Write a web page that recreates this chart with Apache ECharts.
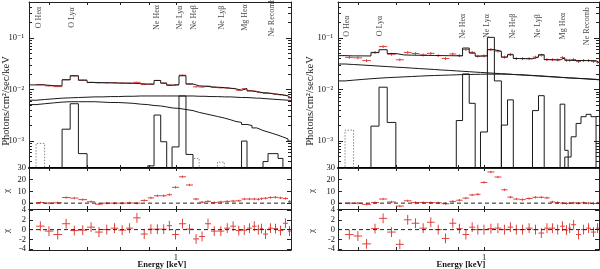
<!DOCTYPE html>
<html><head><meta charset="utf-8">
<script src="https://cdn.jsdelivr.net/npm/echarts@6/dist/echarts.min.js"></script>
<style>html,body{margin:0;padding:0;background:#fff}#c{width:600px;height:269px}</style>
</head><body><div id="c"></div>
<script>
// ---------------- DATA ----------------
// spectral bin edges (keV), shared by both spectra
const binEdges = [0.553,0.569,0.589,0.610,0.632,0.653,0.675,0.699,0.722,0.745,0.769,0.793,0.818,0.842,0.868,0.893,0.916,0.941,0.964,0.985,1.013,1.042,1.072,1.099,1.125,1.153,1.183,1.216,1.246,1.275,1.304,1.333,1.360,1.386,1.405,1.422,1.451,1.480,1.511,1.541,1.573,1.592];
const energyRange = [0.553, 1.592];
const fluxRange = [3e-4, 0.5];
const chi1Range = [-5, 30];
const chi2Range = [-4.15, 4.2];

// tick values / labels
const energyTicks = [0.6, 0.7, 0.8, 0.9, 1];
const energyLabels = [1];
const fluxMajorTicks = [1e-3, 1e-2, 1e-1];
const fluxMajorLabels = ['10⁻³', '10⁻²', '10⁻¹'];
const fluxMinorTicks = [4e-4,5e-4,6e-4,7e-4,8e-4,9e-4,2e-3,3e-3,4e-3,5e-3,6e-3,7e-3,8e-3,9e-3,2e-2,3e-2,4e-2,5e-2,6e-2,7e-2,8e-2,9e-2,2e-1,3e-1,4e-1];
const chi1Ticks = [0, 10, 20, 30];
const chi2Ticks = [-4, -2, 0, 2, 4];

// line identifications
const lineNames = ['O Heα', 'O Lyα', 'Ne Heα', 'Ne Lyα', 'Ne Heβ', 'Ne Lyβ', 'Mg Heα', 'Ne Recomb'];
const leftLabelEnergy  = [0.576, 0.657, 0.926, 1.017, 1.078, 1.204, 1.323, 1.473];
const rightLabelEnergy = [0.574, 0.656, 0.919, 1.010, 1.125, 1.244, 1.377, 1.517];

// ---- left spectrum ----
const leftTotal = [0.0123,0.0123,0.0119,0.0118,0.0154,0.0185,0.0152,0.0137,0.0136,0.0135,0.0134,0.0133,0.0132,0.0130,0.0128,0.0127,0.0150,0.0133,0.0121,0.0125,0.0185,0.0128,0.0118,0.0116,0.0113,0.0111,0.0109,0.0106,0.0103,0.0097,0.0104,0.0094,0.0091,0.0089,0.0087,0.0086,0.0083,0.0081,0.0079,0.0075,0.0069];
const leftContA = [0.0062,0.0064,0.0066,0.0068,0.0069,0.0070,0.0071,0.0072,0.0072,0.0073,0.0073,0.0074,0.0074,0.0075,0.0075,0.0075,0.0075,0.0075,0.0075,0.0075,0.0075,0.0075,0.0074,0.0074,0.0073,0.0073,0.0072,0.0072,0.0071,0.0070,0.0070,0.0069,0.0068,0.0068,0.0067,0.0066,0.0065,0.0064,0.0063,0.0062,0.0061];
const leftContB = [0.0051,0.0053,0.0055,0.0057,0.0058,0.0058,0.0058,0.0058,0.0057,0.0056,0.0056,0.0055,0.0054,0.0052,0.0051,0.0049,0.0048,0.0046,0.0044,0.0043,0.0041,0.0039,0.0036,0.0034,0.0032,0.0030,0.0028,0.0026,0.0024,0.0023,0.0021,0.0020,0.0018,0.0017,0.0016,0.0015,0.0014,0.0013,0.0012,0.0011,0.0010];
const leftData = [null,0.0125,0.0118,0.0114,0.0156,0.0184,0.0152,0.0138,0.0135,0.0135,0.0135,0.0133,0.0133,0.0138,0.0125,0.0127,0.0150,0.0133,0.0123,0.0122,0.0190,0.0128,0.0113,0.0112,0.0116,0.0110,0.0108,0.0107,0.0105,0.0097,0.0104,0.0095,0.0093,0.0089,0.0087,0.0084,0.0084,0.0081,0.0079,0.0077,0.0069];
const leftRelErr = 0.025;
const leftChi1 = [null,0.5,0,0.3,4.8,4.3,3,1.2,-0.8,0,0,0,0.2,0,2.3,4.5,6.3,6.3,7.2,13.5,22.5,15.5,3.5,0.8,1.5,0.5,1,1.5,1.8,2,3.5,3.5,3.5,3.3,3.8,4.2,4.8,5,4.5,4,1.5];
const leftChi2 = [null,0.7,-0.3,-1.0,1.2,-0.2,-0.1,0.5,-0.5,0,0.3,-0.1,0.3,2.4,-0.9,0.1,0.1,0.1,0.8,-1.0,1.2,0.1,-1.9,-1.4,1.2,-0.3,-0.3,0.3,0.7,-0.2,-0.1,0.3,0.7,0,0.2,-0.9,0.3,0.2,-0.2,1.3,-0.3];
// line components: [bin index, flux]
const leftOHea  = [[1, 9.0e-4]];
const leftOLya  = [[4, 1.7e-3], [5, 5.3e-3], [6, 5.7e-4]];
const leftNeHea = [[15, 3.3e-4], [16, 3.2e-3], [17, 9.7e-4]];
const leftNeLya = [[19, 7.7e-4], [20, 7.5e-3], [21, 5.5e-4]];
const leftNeHeb = [[22, 4.6e-4]];
const leftNeLyb = [[26, 3.9e-4]];
const leftMgHea = [[30, 1.0e-3]];
const leftNeRec = [[35, 4.0e-4], [36, 5.7e-4], [37, 5.7e-4], [38, 4.6e-4]];

// ---- right spectrum ----
const rightTotal = [0.0455,0.0450,0.0450,0.0448,0.0520,0.0593,0.0500,0.0470,0.0465,0.0462,0.0460,0.0458,0.0456,0.0454,0.0452,0.0450,0.0639,0.0510,0.0445,0.0450,0.0593,0.0550,0.0426,0.0473,0.0400,0.0398,0.0395,0.0426,0.0473,0.0380,0.0378,0.0376,0.0410,0.0370,0.0368,0.0367,0.0366,0.0365,0.0364,0.0362,0.0335];
const rightContA = [0.0313,0.0306,0.0299,0.0292,0.0285,0.0279,0.0272,0.0267,0.0261,0.0255,0.0250,0.0245,0.0239,0.0235,0.0230,0.0226,0.0222,0.0218,0.0215,0.0211,0.0207,0.0203,0.0200,0.0196,0.0193,0.0190,0.0186,0.0183,0.0180,0.0177,0.0175,0.0172,0.0170,0.0168,0.0167,0.0165,0.0163,0.0161,0.0158,0.0156,0.0154];
const rightContB = [0.0147,0.0152,0.0157,0.0162,0.0166,0.0170,0.0173,0.0176,0.0179,0.0182,0.0185,0.0187,0.0189,0.0191,0.0193,0.0195,0.0196,0.0197,0.0198,0.0199,0.0199,0.0199,0.0198,0.0196,0.0194,0.0191,0.0188,0.0185,0.0182,0.0179,0.0176,0.0173,0.0171,0.0169,0.0168,0.0166,0.0164,0.0162,0.0160,0.0158,0.0156];
const rightData = [null,0.0421,0.0412,0.0364,0.0527,0.0682,0.0484,0.0378,0.0525,0.0501,0.0469,0.0503,0.0456,0.0401,0.0490,0.0456,0.0597,0.0527,0.0445,0.0450,0.0599,0.0558,0.0426,0.0483,0.0400,0.0398,0.0398,0.0426,0.0465,0.0382,0.0380,0.0376,0.0418,0.0370,0.0370,0.0383,0.0350,0.0365,0.0365,0.0352,0.0340];
const rightRelErr = 0.065;
const rightChi1 = [null,0,0,-1,0.5,3.5,1,-2.5,2,0.5,0.5,0.5,0.3,-0.5,1.5,2.5,4.3,7,7.5,17.7,26.6,22.3,11.4,5.1,3.5,3,4,5,5,4.5,1,0.5,0,-0.3,0,0.2,0,0.3,0,-0.3,0.2];
const rightChi2 = [null,-1,-1.3,-2.9,0.2,2.3,-0.5,-3,2,1.3,0.3,1.5,0,-1.8,1.3,0.2,-1,0.5,0,0,0.2,0.3,0,0.5,0,0,0.3,0,-0.7,0.3,0.3,0,0.7,-0.1,0.3,1,-1,0,0.3,-0.5,0.3];
const rightOHea  = [[1, 1.63e-3]];
const rightOLya  = [[4, 1.95e-3], [5, 1.11e-2], [6, 2.3e-3]];
const rightNeHea = [[15, 2.5e-3], [16, 2.01e-2], [17, 5.4e-3]];
const rightNeLya = [[19, 1.5e-3], [20, 0.103], [21, 1.47e-2]];
const rightNeHeb = [[22, 2.04e-3], [23, 6.3e-3]];
const rightNeLyb = [[27, 3.9e-3], [28, 7.6e-3]];
const rightMgHea = [[32, 5.2e-3], [33, 6.6e-4]];
const rightNeRec = [[33, 4.9e-4], [34, 4.9e-4], [35, 1.21e-3], [36, 2.2e-3], [37, 2.97e-3], [38, 3.3e-3], [39, 2.97e-3]];

// ---------------- STYLE / LAYOUT ----------------
const FONT = '"Liberation Serif","DejaVu Serif",serif';
const AX = '#222';
const RED = '#e0403c';
const INK = '#1a1a1a';
const FLOOR = 1e-6; // zero-flux level (below axis, clipped)

const panels = [
  { left: 29, width: 262, total: leftTotal, contA: leftContA, contB: leftContB, data: leftData, relErr: leftRelErr,
    chi1: leftChi1, chi2: leftChi2, labelE: leftLabelEnergy, labelY: 0.25,
    comps: [{d: leftOHea, dot: true}, {d: leftOLya}, {d: leftNeHea}, {d: leftNeLya}, {d: leftNeHeb, dot: true}, {d: leftNeLyb, dot: true}, {d: leftMgHea}, {d: leftNeRec}],
    titleX: 6, chiX: 7, energyX: 162 },
  { left: 338, width: 261, total: rightTotal, contA: rightContA, contB: rightContB, data: rightData, relErr: rightRelErr,
    chi1: rightChi1, chi2: rightChi2, labelE: rightLabelEnergy, labelY: 0.17,
    comps: [{d: rightOHea, dot: true}, {d: rightOLya}, {d: rightNeHea}, {d: rightNeLya}, {d: rightNeHeb}, {d: rightNeLyb}, {d: rightMgHea}, {d: rightNeRec}],
    titleX: 310, chiX: 312, energyX: 461 }
];
const rows = [ {top: 2, height: 166}, {top: 168, height: 41}, {top: 209, height: 41} ];

const grid = [], xAxis = [], yAxis = [], series = [], graphic = [];

function stepFull(vals) {
  const pts = [];
  vals.forEach((v, i) => { pts.push([binEdges[i], v]); pts.push([binEdges[i + 1], v]); });
  return pts;
}
function stepComp(comp) {
  const pts = [[binEdges[comp[0][0]], FLOOR]];
  comp.forEach(([b, v]) => { pts.push([binEdges[b], v]); pts.push([binEdges[b + 1], v]); });
  pts.push([binEdges[comp[comp.length - 1][0] + 1], FLOOR]);
  return pts;
}
function crossItems(vals, errFn) {
  const out = [];
  vals.forEach((v, i) => { if (v !== null) out.push([binEdges[i], binEdges[i + 1], v, errFn(v)]); });
  return out;
}
function crossRender(params, api) {
  const lo = api.value(0), hi = api.value(1), y = api.value(2), e = api.value(3);
  const p0 = api.coord([lo, y]), p1 = api.coord([hi, y]);
  const xm = (p0[0] + p1[0]) / 2;
  const pu = api.coord([lo, y + e]), pd = api.coord([lo, y - e]);
  return { type: 'group', children: [
    { type: 'line', shape: {x1: p0[0], y1: p0[1], x2: p1[0], y2: p1[1]}, style: {stroke: RED, lineWidth: 1} },
    { type: 'line', shape: {x1: xm, y1: pu[1], x2: xm, y2: pd[1]}, style: {stroke: RED, lineWidth: 1} }
  ]};
}
function fluxLabel(v) {
  const k = Math.round(Math.log10(v));
  const idx = fluxMajorTicks.findIndex(t => Math.round(Math.log10(t)) === k);
  return idx >= 0 ? fluxMajorLabels[idx] : '';
}

panels.forEach((P, pi) => {
  rows.forEach((R, ri) => {
    const g = grid.length;
    grid.push({ left: P.left, top: R.top, width: P.width, height: R.height, containLabel: false });
    const isTop = ri === 0, isBottom = ri === 2;
    const xi = xAxis.length;
    xAxis.push({ type: 'log', gridIndex: g, min: energyRange[0], max: energyRange[1], position: 'bottom',
      axisLine: { onZero: false, lineStyle: { color: isTop ? '#000' : AX, width: isTop ? 2 : 1 } },
      axisTick: { inside: true, length: 3, customValues: energyTicks, lineStyle: { color: AX } },
      axisLabel: { show: isBottom, customValues: energyLabels, formatter: v => String(Math.round(v)), margin: 3,
        fontFamily: FONT, fontSize: 8.5, color: '#111' },
      splitLine: { show: false }, minorTick: { show: false } });
    xAxis.push({ type: 'log', gridIndex: g, min: energyRange[0], max: energyRange[1], position: 'top',
      axisLine: { onZero: false, lineStyle: { color: AX, width: 1 } },
      axisTick: { inside: true, length: 3, customValues: energyTicks, lineStyle: { color: AX } },
      axisLabel: { show: false }, splitLine: { show: false } });
    const yi = yAxis.length;
    if (isTop) {
      const base = { type: 'log', gridIndex: g, min: fluxRange[0], max: fluxRange[1], splitLine: { show: false } };
      yAxis.push(Object.assign({}, base, { position: 'left',
        axisLine: { show: true, onZero: false, lineStyle: { color: AX } },
        axisTick: { inside: true, length: 5, customValues: fluxMajorTicks, lineStyle: { color: AX } },
        axisLabel: { customValues: fluxMajorTicks, formatter: fluxLabel, margin: 5, fontFamily: FONT, fontSize: 8.5, color: '#111' } }));
      yAxis.push(Object.assign({}, base, { position: 'left', axisLine: { show: false },
        axisTick: { inside: true, length: 3, customValues: fluxMinorTicks, lineStyle: { color: AX } }, axisLabel: { show: false } }));
      yAxis.push(Object.assign({}, base, { position: 'right',
        axisLine: { show: true, onZero: false, lineStyle: { color: AX } },
        axisTick: { inside: true, length: 5, customValues: fluxMajorTicks, lineStyle: { color: AX } }, axisLabel: { show: false } }));
      yAxis.push(Object.assign({}, base, { position: 'right', axisLine: { show: false },
        axisTick: { inside: true, length: 3, customValues: fluxMinorTicks, lineStyle: { color: AX } }, axisLabel: { show: false } }));
    } else {
      const rng = ri === 1 ? chi1Range : chi2Range;
      const tk = ri === 1 ? chi1Ticks : chi2Ticks;
      const base = { type: 'value', gridIndex: g, min: rng[0], max: rng[1], splitLine: { show: false } };
      yAxis.push(Object.assign({}, base, { position: 'left',
        axisLine: { show: true, onZero: false, lineStyle: { color: AX } },
        axisTick: { inside: true, length: 4, customValues: tk, lineStyle: { color: AX } },
        axisLabel: { customValues: tk, formatter: v => String(Math.round(v)), margin: 3, fontFamily: FONT, fontSize: 8.5, color: '#111' } }));
      yAxis.push(Object.assign({}, base, { position: 'right',
        axisLine: { show: true, onZero: false, lineStyle: { color: AX } },
        axisTick: { inside: true, length: 4, customValues: tk, lineStyle: { color: AX } }, axisLabel: { show: false } }));
    }

    if (isTop) {
      series.push({ type: 'custom', xAxisIndex: xi, yAxisIndex: yi, clip: true, silent: true,
        data: crossItems(P.data, v => v * P.relErr), encode: { x: [0, 1], y: 2 }, renderItem: crossRender });
      [P.total, P.contA, P.contB].forEach(arr => series.push({ type: 'line', xAxisIndex: xi, yAxisIndex: yi,
        data: stepFull(arr), symbol: 'none', silent: true, clip: true, lineStyle: { color: INK, width: 1 } }));
      P.comps.forEach(c => series.push({ type: 'line', xAxisIndex: xi, yAxisIndex: yi, data: stepComp(c.d),
        symbol: 'none', silent: true, clip: true,
        lineStyle: c.dot ? { color: '#888', width: 1, type: [1.5, 1.5] } : { color: INK, width: 1 } }));
      series.push({ type: 'scatter', xAxisIndex: xi, yAxisIndex: yi, silent: true, symbolSize: 2,
        itemStyle: { color: 'rgba(0,0,0,0)' },
        data: P.labelE.map((e, k) => [e, P.labelY, lineNames[k]]),
        label: { show: true, position: 'inside', rotate: 90, formatter: p => p.data[2],
          fontFamily: FONT, fontSize: 8, color: '#111' }, labelLayout: { hideOverlap: false } });
    } else {
      series.push({ type: 'line', xAxisIndex: xi, yAxisIndex: yi, symbol: 'none', silent: true,
        data: [[energyRange[0], 0], [energyRange[1], 0]], lineStyle: { color: '#222', width: 1, type: [4, 3] } });
      series.push({ type: 'custom', xAxisIndex: xi, yAxisIndex: yi, clip: true, silent: true,
        data: crossItems(ri === 1 ? P.chi1 : P.chi2, v => 1), encode: { x: [0, 1], y: 2 }, renderItem: crossRender });
    }
  });
  const txt = (x, y, text, size, rot, bold) => graphic.push({ type: 'text', x: x, y: y, rotation: rot ? Math.PI / 2 : 0,
    style: { text: text, font: (bold ? 'bold ' : '') + size + 'px ' + FONT, fill: '#111',
      align: 'center', verticalAlign: 'middle', textAlign: 'center', textVerticalAlign: 'middle' } });
  txt(P.titleX, 101, 'Photons/cm²/sec/keV', 10.5, true, false);
  txt(P.chiX, 191, 'χ', 9, true, false);
  txt(P.chiX, 231, 'χ', 9, true, false);
  txt(P.energyX, 265, 'Energy [keV]', 8.5, false, true);
});

const chart = echarts.init(document.getElementById('c'), null, { renderer: 'canvas', width: 600, height: 269 });
chart.setOption({ animation: false, backgroundColor: '#fff', grid, xAxis, yAxis, series, graphic, tooltip: { show: false } });
</script></body></html>
